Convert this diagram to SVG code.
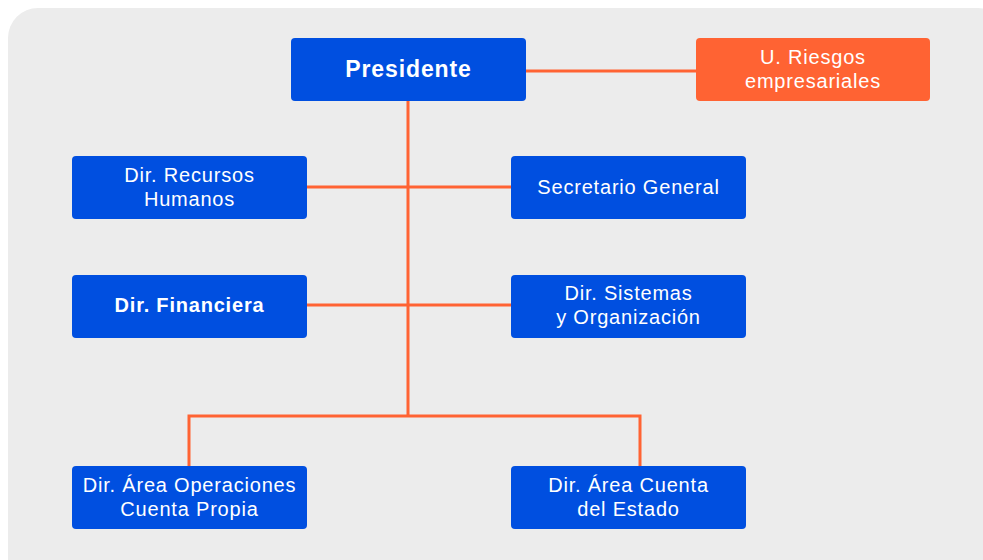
<svg xmlns="http://www.w3.org/2000/svg" width="983" height="560" viewBox="0 0 983 560">
<style>
.bg{fill:#ececec}
.node{fill:#004fe0}
.risk{fill:#ff6333}
.t{font-family:"Liberation Sans",Arial,sans-serif;font-size:20px;letter-spacing:0.8px;fill:#ffffff;text-anchor:middle}
.b{font-weight:bold}
.c{stroke:#ff6333;stroke-width:3;fill:none}
</style>
<rect width="983" height="560" fill="#ffffff"/>
<rect class="bg" x="8" y="8" width="1000" height="580" rx="30"/>
<g id="connectors">
<path class="c" d="M526 71H696"/>
<path class="c" d="M408 101V416"/>
<path class="c" d="M306 187H511"/>
<path class="c" d="M306 305H511"/>
<path class="c" d="M189 466V416H640V466"/>
</g>
<g id="presidente"><rect class="node" x="291" y="38" width="235" height="63" rx="4"/><text class="t b" x="408.5" y="77" style="font-size:23px;letter-spacing:0.9px">Presidente</text></g>
<g id="riesgos"><rect class="risk" x="696" y="38" width="234" height="63" rx="4"/><text class="t" x="813" y="64">U. Riesgos</text><text class="t" x="813" y="88">empresariales</text></g>
<g id="rrhh"><rect class="node" x="72" y="156" width="235" height="63" rx="4"/><text class="t" x="189.5" y="182">Dir. Recursos</text><text class="t" x="189.5" y="206">Humanos</text></g>
<g id="secretario"><rect class="node" x="511" y="156" width="235" height="63" rx="4"/><text class="t" x="628.5" y="194">Secretario General</text></g>
<g id="financiera"><rect class="node" x="72" y="275" width="235" height="63" rx="4"/><text class="t b" x="189.5" y="312">Dir. Financiera</text></g>
<g id="sistemas"><rect class="node" x="511" y="275" width="235" height="63" rx="4"/><text class="t" x="628.5" y="300">Dir. Sistemas</text><text class="t" x="628.5" y="324">y Organización</text></g>
<g id="operaciones"><rect class="node" x="72" y="466" width="235" height="63" rx="4"/><text class="t" x="189.5" y="492">Dir. Área Operaciones</text><text class="t" x="189.5" y="516">Cuenta Propia</text></g>
<g id="estado"><rect class="node" x="511" y="466" width="235" height="63" rx="4"/><text class="t" x="628.5" y="492">Dir. Área Cuenta</text><text class="t" x="628.5" y="516">del Estado</text></g>
</svg>
